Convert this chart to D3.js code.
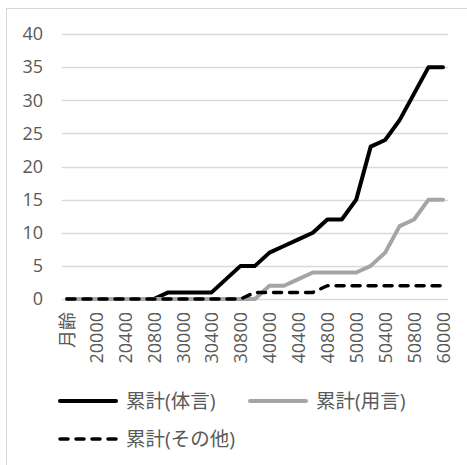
<!DOCTYPE html>
<html>
<head>
<meta charset="utf-8">
<script src="https://cdn.jsdelivr.net/npm/d3@7"></script>
<style>
  html, body { margin: 0; padding: 0; background: #fff; }
  svg { display: block; }
  text { font-family: "Open Sans", "Noto Sans CJK JP", sans-serif; fill: #595959; }
</style>
</head>
<body>
<svg id="chart" width="467" height="465"></svg>
<script>
// Age categories (y;mm.dd compacted), first entry is the header cell
const categories = ["月齢", "11000", "20000", "20200", "20400", "20600", "20800", "21000",
  "30000", "30200", "30400", "30600", "30800", "31000",
  "40000", "40200", "40400", "40600", "40800", "41000",
  "50000", "50200", "50400", "50600", "50800", "51000", "60000"];

// Cumulative counts per category
const taigen = [0, 0, 0, 0, 0, 0, 0, 1, 1, 1, 1, 3, 5, 5, 7, 8, 9, 10, 12, 12, 15, 23, 24, 27, 31, 35, 35];
const yougen = [0, 0, 0, 0, 0, 0, 0, 0, 0, 0, 0, 0, 0, 0, 2, 2, 3, 4, 4, 4, 4, 5, 7, 11, 12, 15, 15];
const sonota = [0, 0, 0, 0, 0, 0, 0, 0, 0, 0, 0, 0, 0, 1, 1, 1, 1, 1, 2, 2, 2, 2, 2, 2, 2, 2, 2];

const yTicks = [0, 5, 10, 15, 20, 25, 30, 35, 40];

const series = [
  { name: "累計(体言)", values: taigen, color: "#000000", width: 4, dash: null },
  { name: "累計(用言)", values: yougen, color: "#a5a5a5", width: 4, dash: null },
  { name: "累計(その他)", values: sonota, color: "#000000", width: 3.5, dash: "8,8" }
];

const svg = d3.select("#chart");

// Chart area frame
svg.append("rect")
  .attr("x", 6.5).attr("y", 8.5)
  .attr("width", 480).attr("height", 480)
  .attr("fill", "none").attr("stroke", "#d9d9d9").attr("stroke-width", 1);

const plot = { left: 62, right: 448, top: 34, bottom: 299 };

const x = d3.scalePoint()
  .domain(categories)
  .range([67, 443]);

const y = d3.scaleLinear()
  .domain([0, 40])
  .range([plot.bottom, plot.top]);

// Horizontal gridlines
svg.append("g")
  .selectAll("line")
  .data(yTicks)
  .join("line")
  .attr("x1", plot.left).attr("x2", plot.right)
  .attr("y1", d => Math.round(y(d)) + 0.5)
  .attr("y2", d => Math.round(y(d)) + 0.5)
  .attr("stroke", "#d9d9d9").attr("stroke-width", 1.3);

// Y axis labels
const yAxis = d3.axisLeft(y).tickValues(yTicks).tickSize(0).tickPadding(0);
const yg = svg.append("g")
  .attr("transform", `translate(43,0)`)
  .call(yAxis);
yg.select(".domain").remove();
yg.selectAll("text")
  .attr("font-size", "18px")
  .attr("font-family", "'Open Sans', sans-serif")
  .attr("fill", "#595959");

// X axis labels, every other category, rotated
const xAxis = d3.axisBottom(x)
  .tickValues(categories.filter((d, i) => i % 2 === 0))
  .tickSize(0).tickPadding(0);
const xg = svg.append("g")
  .attr("transform", `translate(0,${plot.bottom})`)
  .call(xAxis);
xg.select(".domain").remove();
xg.selectAll("text")
  .attr("font-size", "18px")
  .attr("font-family", "'Open Sans', 'Noto Sans CJK JP', sans-serif")
  .attr("fill", "#595959")
  .attr("text-anchor", "end")
  .attr("dy", "0.35em")
  .attr("transform", "translate(0,13) rotate(-90)")
  .attr("x", 0).attr("y", 0);

// Series lines
const line = d3.line()
  .x((d, i) => x(categories[i]))
  .y(d => y(d));

series.forEach(s => {
  svg.append("path")
    .datum(s.values)
    .attr("d", line)
    .attr("fill", "none")
    .attr("stroke", s.color)
    .attr("stroke-width", s.width)
    .attr("stroke-linejoin", "round")
    .attr("stroke-linecap", "round")
    .attr("stroke-dasharray", s.dash);
});

// Legend
const legendItems = [
  { s: series[0], x: 58, y: 401 },
  { s: series[1], x: 248, y: 401 },
  { s: series[2], x: 58, y: 439 }
];
const lg = svg.append("g");
legendItems.forEach(it => {
  lg.append("line")
    .attr("x1", it.x + 2).attr("x2", it.x + 58)
    .attr("y1", it.y).attr("y2", it.y)
    .attr("stroke", it.s.color)
    .attr("stroke-width", it.s.width)
    .attr("stroke-linecap", "round")
    .attr("stroke-dasharray", it.s.dash);
  lg.append("text")
    .attr("x", it.x + 68).attr("y", it.y)
    .attr("dy", "0.35em")
    .attr("font-size", "19.5px")
    .attr("font-family", "'Noto Sans CJK JP', sans-serif")
    .attr("fill", "#666666")
    .text(it.s.name);
});
</script>
</body>
</html>
